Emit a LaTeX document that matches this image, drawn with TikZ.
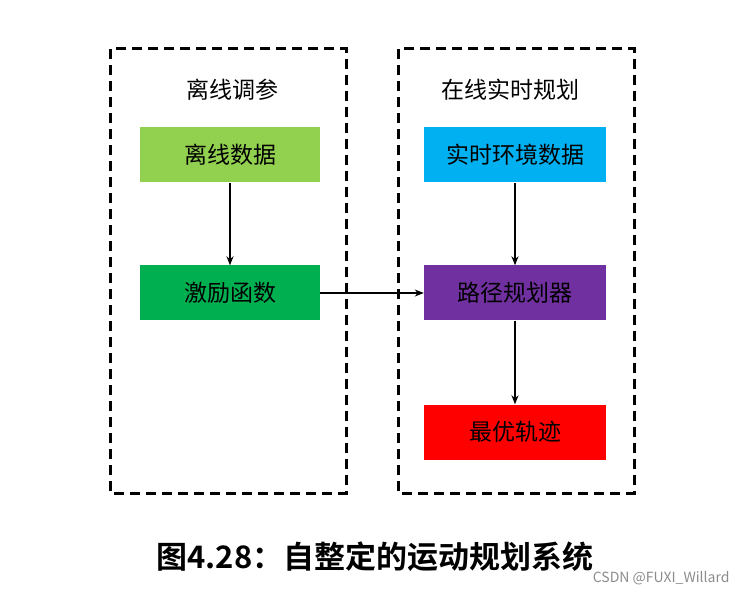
\documentclass[tikz,border=0pt]{standalone}
\usepackage{fontspec}
\newfontfamily\cjk{Noto Sans CJK SC}[BoldFont={Noto Sans CJK SC Bold}]
\usetikzlibrary{arrows.meta,shapes}

\begin{document}
\begin{tikzpicture}[x=1pt,y=-1pt,node distance=138pt,
block/.style={
rectangle,
inner sep=0pt,
minimum width=182pt,
minimum height=55pt,
font=\cjk\fontsize{23}{23}\selectfont
},
frame/.style={
draw,
line width=3pt,
dash pattern=on 10pt off 6pt
},
link/.style={
draw,
line width=1.3pt,
-{Stealth[length=9pt,width=7pt]}
}]
\useasboundingbox (0,0) rectangle (745,596);
% dashed frames
\draw[frame] (110,49) rectangle (346,493);
\draw[frame] (398,49) rectangle (634,493);
\node (offtitle) [font=\cjk\fontsize{23}{23}\selectfont] at (232,90) {离线调参};
\node (ontitle) [font=\cjk\fontsize{23}{23}\selectfont] at (510,90) {在线实时规划};
% left column
\node (offdata) [block,fill={rgb,255:red,146;green,208;blue,80},minimum width=180pt] at (230,155) {离线数据};
\node (reward) [block,fill={rgb,255:red,0;green,176;blue,80},minimum width=180pt,below of = offdata] {激励函数};
% right column
\node (planner) [block,fill={rgb,255:red,112;green,48;blue,160},right of = reward, node distance=285pt] {路径规划器};
\node (envdata) [block,fill={rgb,255:red,0;green,176;blue,240},above of = planner] {实时环境数据};
\node (bestpath) [block,fill={rgb,255:red,255;green,0;blue,0},below of = planner, node distance=139pt] {最优轨迹};
\draw[link] (offdata) -- (reward);
\draw[link] (reward) -- (planner);
\draw[link] (envdata) -- (planner);
\draw[link] (planner) -- (bestpath);
% caption
\node (caption) [font=\cjk\bfseries\fontsize{31}{31}\selectfont] at (375,557) {图4.28：自整定的运动规划系统};
\node (mark) [font=\cjk\fontsize{14}{14}\selectfont,text=black!45,anchor=east] at (733,578) {CSDN @FUXI\_Willard};
\end{tikzpicture}
\end{document}
